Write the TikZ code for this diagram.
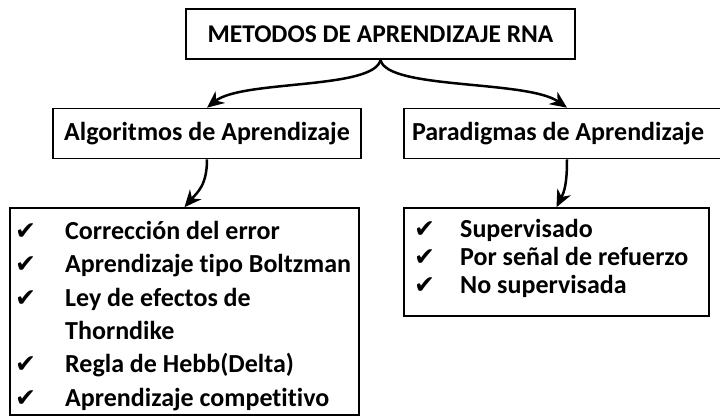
\documentclass[tikz,border=0pt]{standalone}
\usepackage{fontspec}
\setmainfont{Carlito}[Ligatures=NoCommon]
\newfontfamily\checkfont{DejaVu Sans}
\usetikzlibrary{arrows.meta}
\usetikzlibrary{positioning}

\begin{document}
\begin{tikzpicture}[x=1pt,y=-1pt,
	caja/.style={draw, line width=1.6pt, inner sep=0pt, font=\bfseries\fontsize{26}{30}\selectfont},
	flecha/.style={line width=2.5pt, -{Stealth[length=17pt,width=15pt]}},
	item/.style={anchor=base west, inner sep=0pt, font=\bfseries\fontsize{26}{30}\selectfont},
	marca/.style={anchor=base west, inner sep=0pt, font=\checkfont\fontsize{25}{30}\selectfont}]
				\useasboundingbox (0,0) rectangle (720,418);
				
				\node[caja, minimum width=389, minimum height=50, font=\bfseries\fontsize{25.5}{30}\selectfont] (metodos) at (380.5,34) {METODOS DE APRENDIZAJE RNA};
				\node[caja, minimum width=308, minimum height=50] (algo) at (207,133.5) {Algoritmos de Aprendizaje};
				\node[caja, minimum width=326, minimum height=50, text width=310, align=flush left] (para) at (567,133.5) {Paradigmas de Aprendizaje};
				\node[caja, minimum width=349, minimum height=207] (lalgo) at (184.5,311.5) {};
				\node[caja, minimum width=305, minimum height=108] (lpara) at (556.5,262) {};
				
				% lista de algoritmos
				\node[marca] (m1) at (15,239) {✔};
				\node[item] (a1) at (65,239) {Corrección del error};
				\node[marca] (m2) at (15,272.5) {✔};
				\node[item] (a2) at (65,272.5) {Aprendizaje tipo Boltzman};
				\node[marca] (m3) at (15,306) {✔};
				\node[item] (a3) at (65,306) {Ley de efectos de};
				\node[item] (a4) at (65,339) {Thorndike};
				\node[marca] (m5) at (15,372.5) {✔};
				\node[item] (a5) at (65,372.5) {Regla de Hebb(Delta)};
				\node[marca] (m6) at (15,406) {✔};
				\node[item] (a6) at (65,406) {Aprendizaje competitivo};
				
				% lista de paradigmas
				\node[marca] (n1) at (414,237) {✔};
				\node[item] (p1) at (460,237) {Supervisado};
				\node[marca] (n2) at (414,265) {✔};
				\node[item] (p2) at (460,265) {Por señal de refuerzo};
				\node[marca] (n3) at (414,293) {✔};
				\node[item] (p3) at (460,293) {No supervisada};
				
				\draw[flecha] (metodos.south) .. controls +(-6,30) and +(35,-28) .. (algo.north);
				\draw[flecha] (metodos.south) .. controls +(6,30) and +(-40,-28) .. (para.north);
				\draw[flecha] (algo.south) .. controls +(0,26) and +(13,-15) .. (lalgo.north);
				\draw[flecha] (para.south) .. controls +(0,24) and +(8,-16) .. (lpara.north);
			\end{tikzpicture}
\end{document}
